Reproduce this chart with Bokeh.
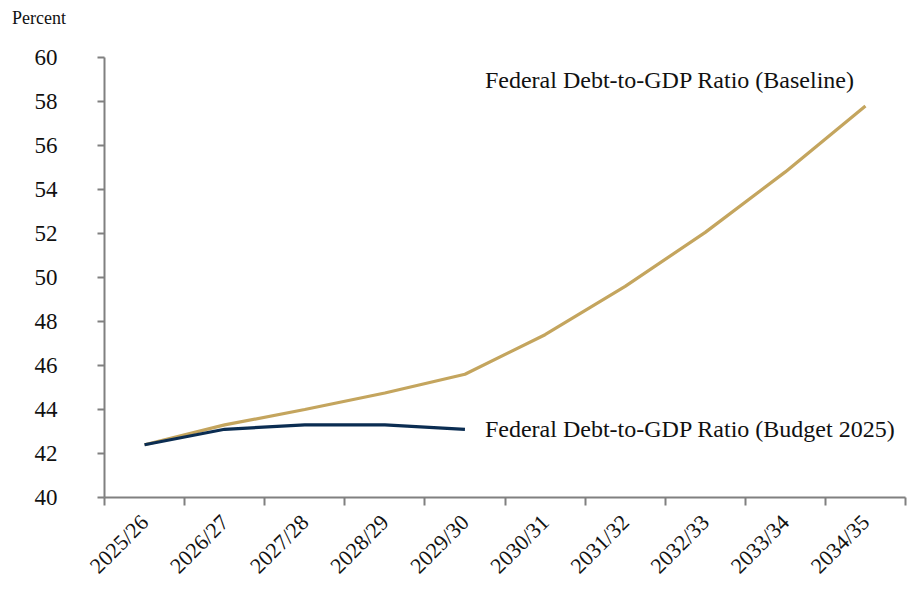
from bokeh.plotting import figure
from bokeh.models import FixedTicker, Range1d, Label, ColumnDataSource, Div
from bokeh.layouts import column
from bokeh.embed import file_html
from bokeh.resources import INLINE
import math

years = ["2025/26", "2026/27", "2027/28", "2028/29", "2029/30",
         "2030/31", "2031/32", "2032/33", "2033/34", "2034/35"]
baseline = [42.4, 43.3, 44.0, 44.75, 45.6, 47.4, 49.6, 52.05, 54.8, 57.8]
budget = [42.4, 43.1, 43.3, 43.3, 43.1]
y_ticks = [40, 42, 44, 46, 48, 50, 52, 54, 56, 58, 60]

FONT = "Liberation Serif"
GOLD = "#C4A55E"
NAVY = "#0B2D52"
AXIS = "#808080"

xpos = [i + 0.5 for i in range(len(years))]

head = Div(text='<div style="line-height:22px">Percent</div>', width=912, height=28, margin=0,
           styles={"font-family": FONT, "font-size": "18px", "color": "#111111",
                   "padding-left": "12px", "padding-top": "6px", "box-sizing": "border-box"})

p = figure(width=912, height=562, output_backend="svg", toolbar_location=None,
           x_range=Range1d(0, len(years)), y_range=Range1d(40, 60),
           min_border_left=104, min_border_right=7, min_border_top=29, min_border_bottom=93)
p.margin = 0
p.outline_line_color = None
p.grid.grid_line_color = None
p.background_fill_color = "white"
p.border_fill_color = "white"

bsrc = ColumnDataSource(dict(x=xpos, y=baseline))
gsrc = ColumnDataSource(dict(x=xpos[:len(budget)], y=budget))
p.line("x", "y", source=bsrc, line_color=GOLD, line_width=3.2)
p.line("x", "y", source=gsrc, line_color=NAVY, line_width=3.2)

# x axis: labels at category centres, ticks at boundaries
xa = p.xaxis[0]
xa.ticker = FixedTicker(ticks=xpos, minor_ticks=list(range(len(years) + 1)))
xa.major_label_overrides = {x: y for x, y in zip(xpos, years)}
xa.major_tick_line_color = None
xa.minor_tick_line_color = AXIS
xa.minor_tick_line_width = 2
xa.minor_tick_out = 8
xa.minor_tick_in = 0
xa.axis_line_color = AXIS
xa.axis_line_width = 2
xa.major_label_orientation = math.pi / 4
xa.major_label_text_font = FONT
xa.major_label_text_font_size = "22px"
xa.major_label_text_color = "#111111"
xa.major_label_standoff = 13

ya = p.yaxis[0]
ya.ticker = FixedTicker(ticks=y_ticks)
ya.major_tick_line_color = AXIS
ya.major_tick_line_width = 2
ya.major_tick_out = 7
ya.major_tick_in = 0
ya.minor_tick_line_color = None
ya.axis_line_color = AXIS
ya.axis_line_width = 2
ya.major_label_text_font = FONT
ya.major_label_text_font_size = "23px"
ya.major_label_text_color = "#111111"
ya.major_label_standoff = 40

p.add_layout(Label(x=xpos[len(budget) - 1], y=budget[-1], x_offset=20,
                   text="Federal Debt-to-GDP Ratio (Budget 2025)",
                   text_font=FONT, text_font_size="24px", text_color="#111111",
                   text_baseline="middle", text_align="left"))
p.add_layout(Label(x=xpos[len(budget) - 1], y=59.0, x_offset=20,
                   text="Federal Debt-to-GDP Ratio (Baseline)",
                   text_font=FONT, text_font_size="24px", text_color="#111111",
                   text_baseline="middle", text_align="left"))

layout = column(head, p, spacing=0, margin=0)
open("out.html", "w").write(file_html(layout, INLINE))
